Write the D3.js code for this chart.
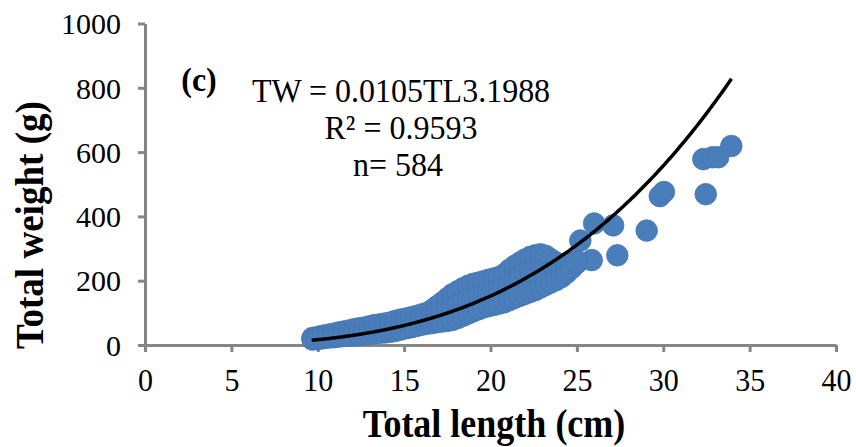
<!DOCTYPE html>
<html><head><meta charset="utf-8">
<script src="https://cdn.jsdelivr.net/npm/d3@7"></script>
<style>body{margin:0;background:#fff}svg{display:block}</style>
</head><body>
<svg id="c" width="856" height="447"></svg>
<script>
// Dense band: x positions with upper / middle / lower point rows
const bandTL   = [9.7,10.0,10.3,10.6,10.9,11.2,11.5,11.8,12.1,12.4,12.7,13.0,13.3,13.6,13.9,14.2,14.5,14.8,15.1,15.4,15.7,16.0,16.3,16.6,16.9,17.2,17.5,17.8,18.1,18.4,18.7,19.0,19.3,19.6,19.9,20.2,20.5,20.8,21.1,21.4,21.7,22.0,22.3,22.6,22.9,23.2,23.5,23.8,24.1,24.4,24.7,25.0];
const bandTop  = [22,25,29,32,35,39,42,45,49,52,54,58,62,64,67,70,75,79,82,86,90,95,99,108,120,132,145,158,167,176,184,190,194,198,203,207,211,220,234,246,256,266,274,279,282,277,266,256,250,248,255,262];
const bandMid  = [20,22,25,27,29,32,35,37,40,42,45,48,50,53,56,59,62,65,69,73,77,81,85,89,95,102,110,118,126,133,140,147,154,160,165,170,175,182,192,202,212,222,230,236,240,238,233,229,232,236,245,258];
const bandLow  = [17,18,21,23,24,26,28,29,30,32,33,35,36,38,39,41,44,48,52,55,59,63,66,68,71,73,75,78,84,91,98,105,111,117,121,125,129,133,140,147,153,159,165,171,179,187,195,202,211,224,239,255];
// Scattered large fish
const outTL = [25.2,26.0,27.1,27.34,25.86,24.99,29.04,29.8,30.04,32.32,32.86,33.18,33.94,32.46];
const outTW = [325,378,372,279,264,259,356,463,476,578,584,584,619,469];
// Fitted power curve TW = a * TL^b (from the chart's equation)
const fitA = 0.0105, fitB = 3.1988, fitRange = [9.65, 33.95];
const xTicks = [0,5,10,15,20,25,30,35,40];
const yTicks = [0,200,400,600,800,1000];
const eqLines = ["TW = 0.0105TL3.1988","R² = 0.9593","n= 584"];

const svg = d3.select("#c");
const x = d3.scaleLinear().domain([0,40]).range([145,836]);
const y = d3.scaleLinear().domain([0,1000]).range([345,23.5]);
const axisCol = "#868686";
const serif = "'Liberation Serif','Times New Roman',serif";

// axes
const gx = svg.append("g").attr("transform","translate(0,345)")
  .call(d3.axisBottom(x).tickValues(xTicks).tickSize(7).tickSizeOuter(0).tickFormat(d3.format("d")));
const gy = svg.append("g").attr("transform","translate(145,0)")
  .call(d3.axisLeft(y).tickValues(yTicks).tickSize(7).tickSizeOuter(0).tickFormat(d3.format("d")));
[gx,gy].forEach(g=>{
  g.select(".domain").attr("stroke",axisCol).attr("stroke-width",3);
  g.selectAll(".tick line").attr("stroke",axisCol).attr("stroke-width",3);
  g.selectAll(".tick text").attr("fill","#000").style("font-family",serif).style("font-size","30px");
});
gx.selectAll(".tick text").attr("y",null).attr("dy",null).attr("transform","translate(0,46) scale(1,1.08)");
gy.selectAll(".tick text").attr("x",-24).attr("dy","0.34em");

// points
const pts = [];
bandTL.forEach((t,i)=>{ pts.push([t,bandTop[i]]); pts.push([t,bandMid[i]]); pts.push([t,bandLow[i]]); });
outTL.forEach((t,i)=>pts.push([t,outTW[i]]));
svg.append("g").selectAll("circle").data(pts).join("circle")
  .attr("cx",d=>x(d[0])).attr("cy",d=>y(d[1])).attr("r",10.8)
  .attr("fill","#4A7EBB").attr("stroke","#4676B2").attr("stroke-width",0.8);

// fit curve
const cx = d3.range(fitRange[0], fitRange[1]+0.001, 0.1);
const line = d3.line().x(d=>x(d)).y(d=>y(fitA*Math.pow(d,fitB))).curve(d3.curveMonotoneX);
svg.append("path").datum(cx).attr("d",line).attr("fill","none").attr("stroke","#000").attr("stroke-width",3.5);

// annotations
svg.append("text").attr("transform","translate(199,91) scale(1,1.08)").attr("text-anchor","middle")
  .style("font-family",serif).style("font-size","32px").style("font-weight","bold").text("(c)");
const eqY = [102,139,176];
eqLines.forEach((s,i)=>{
  svg.append("text").attr("transform",`translate(${i==2?398:401},${eqY[i]}) scale(1,1.08)`).attr("text-anchor","middle")
    .style("font-family",serif).style("font-size","32px").text(s);
});
// axis titles
svg.append("text").attr("transform","translate(494,437) scale(1,1.12)").attr("text-anchor","middle")
  .style("font-family",serif).style("font-size","36px").style("font-weight","bold").text("Total length (cm)");
svg.append("text").attr("transform","translate(43,225) rotate(-90) scale(1.03,1.12)").attr("text-anchor","middle")
  .style("font-family",serif).style("font-size","36px").style("font-weight","bold").text("Total weight (g)");
</script>
</body></html>
